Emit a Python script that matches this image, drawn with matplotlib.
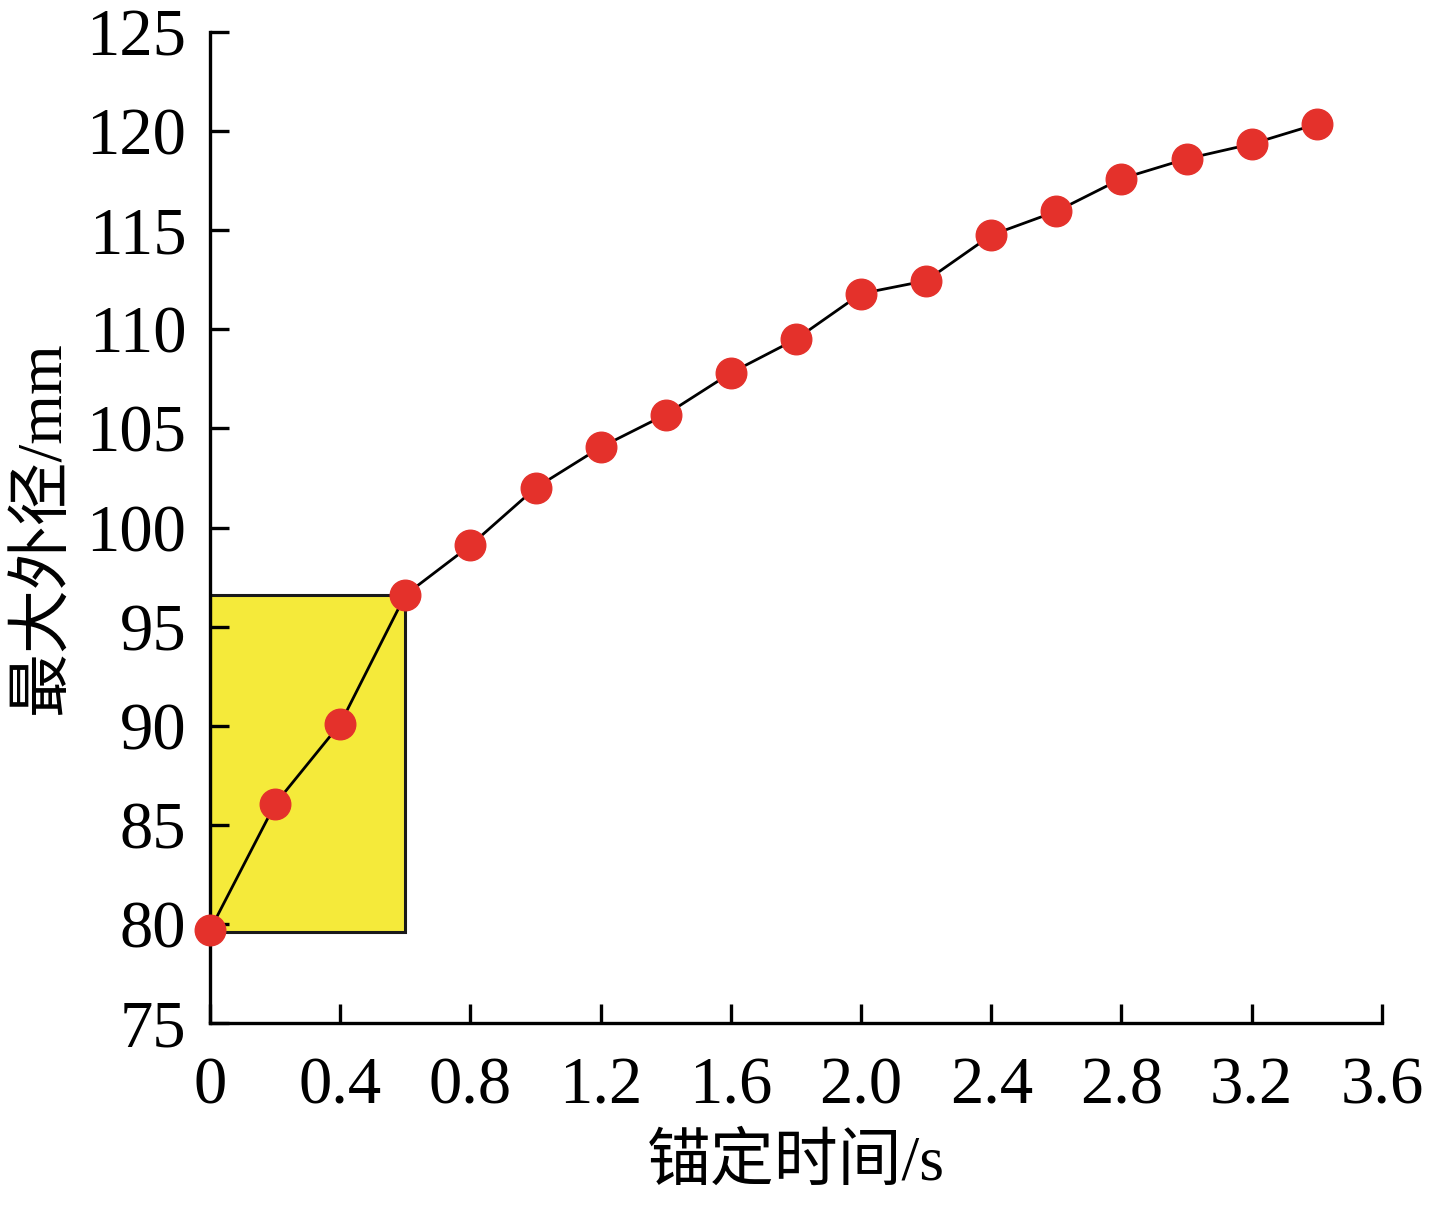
import matplotlib
matplotlib.use("Agg")
import matplotlib.pyplot as plt
from matplotlib.patches import Rectangle

plt.rcParams['font.family'] = ['Liberation Serif', 'Noto Sans CJK SC', 'DejaVu Sans']

anchor_time = [0.0, 0.2, 0.4, 0.6, 0.8, 1.0, 1.2, 1.4, 1.6, 1.8, 2.0, 2.2, 2.4, 2.6, 2.8, 3.0, 3.2, 3.4]
max_diameter = [79.7, 86.05, 90.1, 96.6, 99.1, 102.0, 104.05, 105.7, 107.8, 109.5, 111.8, 112.45,
                114.75, 115.95, 117.6, 118.6, 119.35, 120.35]
x_ticks = [0, 0.4, 0.8, 1.2, 1.6, 2.0, 2.4, 2.8, 3.2, 3.6]
x_tick_labels = ["0", "0.4", "0.8", "1.2", "1.6", "2.0", "2.4", "2.8", "3.2", "3.6"]
y_ticks = [75, 80, 85, 90, 95, 100, 105, 110, 115, 120, 125]
highlight_x = (0.0, 0.6)
highlight_y = (79.6, 96.6)

fig = plt.figure(figsize=(14.29, 12.07), dpi=100)
ax = fig.add_axes([0.147, 0.1524, 0.82, 0.8211])

ax.add_patch(Rectangle((highlight_x[0], highlight_y[0]), highlight_x[1] - highlight_x[0],
                       highlight_y[1] - highlight_y[0], facecolor='#f5ea3a',
                       edgecolor='#1a1a1a', linewidth=2.2, zorder=1))
ax.plot(anchor_time, max_diameter, color='black', linewidth=2.0, zorder=2)
ax.plot(anchor_time, max_diameter, linestyle='none', marker='o', markersize=22,
        markerfacecolor='#e4312b', markeredgecolor='#e4312b', zorder=3, clip_on=False)

ax.set_xlim(0, 3.6)
ax.set_ylim(75, 125)
ax.set_xticks(x_ticks)
ax.set_xticklabels(x_tick_labels)
ax.set_yticks(y_ticks)
for s in ['top', 'right']:
    ax.spines[s].set_visible(False)
for s in ['left', 'bottom']:
    ax.spines[s].set_linewidth(2.4)
ax.tick_params(direction='in', length=14, width=2.4, labelsize=48)
ax.tick_params(axis='x', pad=24)
ax.tick_params(axis='y', pad=17)
ax.set_xlabel('锚定时间/s', fontsize=46, labelpad=12)
ax.set_ylabel('最大外径/mm', fontsize=46, labelpad=9)

fig.savefig('out.png', dpi=100)
